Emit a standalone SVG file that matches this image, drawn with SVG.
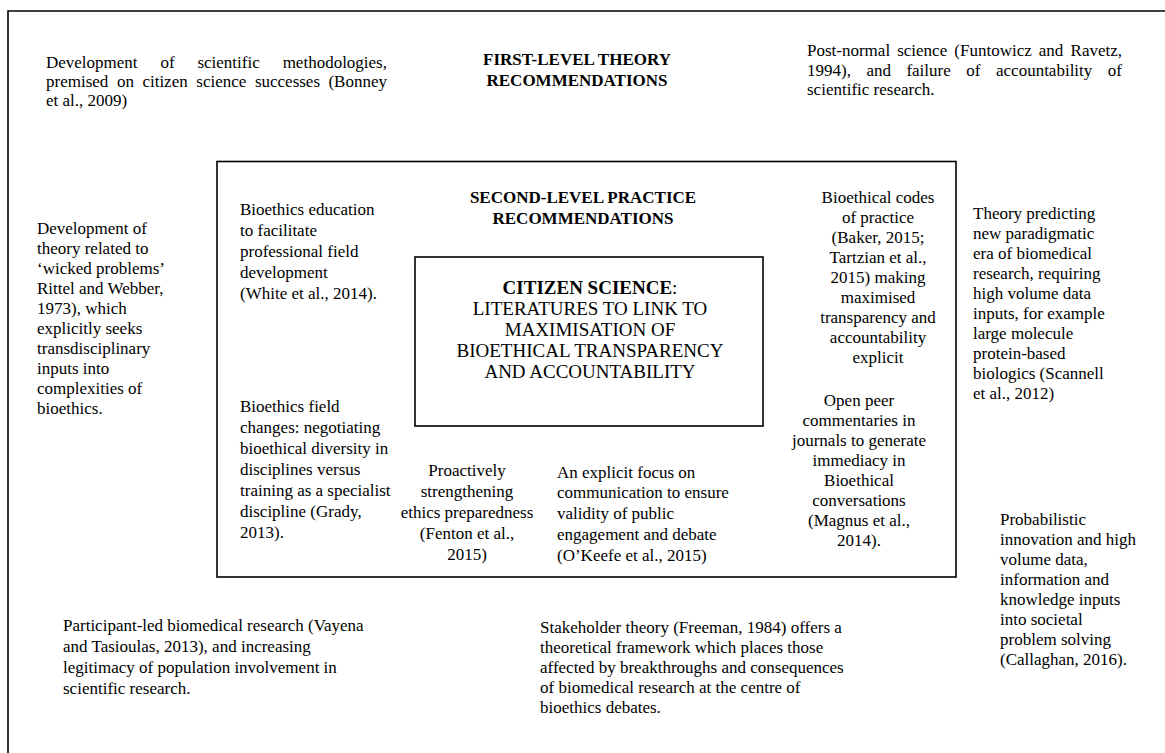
<svg xmlns="http://www.w3.org/2000/svg" width="1165" height="753" viewBox="0 0 1165 753">
<style>
  text { font-family: "Liberation Serif", "Times New Roman", serif; font-size: 17px; fill: #000; }
  .b { font-weight: bold; }
  .c { text-anchor: middle; }
  .e { text-anchor: end; }
  .big { font-size: 19px; }
  .frame { fill: none; stroke: #000; stroke-width: 1.6; }
</style>
<rect width="1165" height="753" fill="#fff"/>
<g id="outer-frame">
  <path class="frame" d="M8 760 L8 11 L1170 11"/>
</g>
<g id="connectors"></g>

<g id="first-level-heading">
  <text class="b c" x="577" y="65">FIRST-LEVEL THEORY</text>
  <text class="b c" x="577" y="86">RECOMMENDATIONS</text>
</g>

<g id="top-left">
  <text x="46" y="68">Development</text>
  <text x="160.4" y="68">of</text>
  <text x="197.4" y="68">scientific</text>
  <text class="e" x="387" y="68">methodologies,</text>
  <text x="46" y="87">premised</text>
  <text x="116.9" y="87">on</text>
  <text x="142.4" y="87">citizen</text>
  <text x="196.3" y="87">science</text>
  <text x="254.9" y="87">successes</text>
  <text class="e" x="387" y="87">(Bonney</text>
  <text x="46" y="106">et al., 2009)</text>
</g>

<g id="top-right">
  <text x="807" y="56">Post-normal</text>
  <text x="897.2" y="56">science</text>
  <text x="954.3" y="56">(Funtowicz</text>
  <text x="1038.8" y="56">and</text>
  <text class="e" x="1122" y="56">Ravetz,</text>
  <text x="807" y="76">1994),</text>
  <text x="866.4" y="76">and</text>
  <text x="906.4" y="76">failure</text>
  <text x="966.3" y="76">of</text>
  <text x="996" y="76">accountability</text>
  <text class="e" x="1122" y="76">of</text>
  <text x="807" y="95">scientific research.</text>
</g>

<g id="left-column">
  <text x="37" y="234">Development of</text>
  <text x="37" y="254">theory related to</text>
  <text x="37" y="274">‘wicked problems’</text>
  <text x="37" y="294">Rittel and Webber,</text>
  <text x="37" y="314">1973), which</text>
  <text x="37" y="334">explicitly seeks</text>
  <text x="37" y="354">transdisciplinary</text>
  <text x="37" y="374">inputs into</text>
  <text x="37" y="394">complexities of</text>
  <text x="37" y="414">bioethics.</text>
</g>

<g id="second-level">
  <rect class="frame" x="217" y="161.5" width="739" height="415.5"/>
  <text class="b c" x="583" y="203">SECOND-LEVEL PRACTICE</text>
  <text class="b c" x="583" y="224">RECOMMENDATIONS</text>
</g>

<g id="citizen-science">
  <rect class="frame" x="415" y="257" width="348" height="169"/>
  <text class="c big" x="590" y="294"><tspan class="b">CITIZEN SCIENCE</tspan>:</text>
  <text class="c big" x="590" y="315">LITERATURES TO LINK TO</text>
  <text class="c big" x="590" y="336">MAXIMISATION OF</text>
  <text class="c big" x="590" y="357">BIOETHICAL TRANSPARENCY</text>
  <text class="c big" x="590" y="378">AND ACCOUNTABILITY</text>
</g>

<g id="bioethics-education">
  <text x="240" y="215">Bioethics education</text>
  <text x="240" y="236">to facilitate</text>
  <text x="240" y="257">professional field</text>
  <text x="240" y="278">development</text>
  <text x="240" y="299">(White et al., 2014).</text>
</g>

<g id="bioethics-field">
  <text x="240" y="412">Bioethics field</text>
  <text x="240" y="433">changes: negotiating</text>
  <text x="240" y="454">bioethical diversity in</text>
  <text x="240" y="475">disciplines versus</text>
  <text x="240" y="496">training as a specialist</text>
  <text x="240" y="517">discipline (Grady,</text>
  <text x="240" y="538">2013).</text>
</g>

<g id="proactively">
  <text class="c" x="467" y="476">Proactively</text>
  <text class="c" x="467" y="497">strengthening</text>
  <text class="c" x="467" y="518">ethics preparedness</text>
  <text class="c" x="467" y="539">(Fenton et al.,</text>
  <text class="c" x="467" y="560">2015)</text>
</g>

<g id="explicit-focus">
  <text x="557" y="478">An explicit focus on</text>
  <text x="557" y="498">communication to ensure</text>
  <text x="557" y="519">validity of public</text>
  <text x="557" y="540">engagement and debate</text>
  <text x="557" y="561">(O’Keefe et al., 2015)</text>
</g>

<g id="bioethical-codes">
  <text class="c" x="878" y="203">Bioethical codes</text>
  <text class="c" x="878" y="223">of practice</text>
  <text class="c" x="878" y="243">(Baker, 2015;</text>
  <text class="c" x="878" y="263">Tartzian et al.,</text>
  <text class="c" x="878" y="283">2015) making</text>
  <text class="c" x="878" y="303">maximised</text>
  <text class="c" x="878" y="323">transparency and</text>
  <text class="c" x="878" y="343">accountability</text>
  <text class="c" x="878" y="363">explicit</text>
</g>

<g id="open-peer">
  <text class="c" x="859" y="406">Open peer</text>
  <text class="c" x="859" y="426">commentaries in</text>
  <text class="c" x="859" y="446">journals to generate</text>
  <text class="c" x="859" y="466">immediacy in</text>
  <text class="c" x="859" y="486">Bioethical</text>
  <text class="c" x="859" y="506">conversations</text>
  <text class="c" x="859" y="526">(Magnus et al.,</text>
  <text class="c" x="859" y="546">2014).</text>
</g>

<g id="theory-predicting">
  <text x="973" y="219">Theory predicting</text>
  <text x="973" y="239">new paradigmatic</text>
  <text x="973" y="259">era of biomedical</text>
  <text x="973" y="279">research, requiring</text>
  <text x="973" y="299">high volume data</text>
  <text x="973" y="319">inputs, for example</text>
  <text x="973" y="339">large molecule</text>
  <text x="973" y="359">protein-based</text>
  <text x="973" y="379">biologics (Scannell</text>
  <text x="973" y="399">et al., 2012)</text>
</g>

<g id="probabilistic">
  <text x="1000" y="525">Probabilistic</text>
  <text x="1000" y="545">innovation and high</text>
  <text x="1000" y="565">volume data,</text>
  <text x="1000" y="585">information and</text>
  <text x="1000" y="605">knowledge inputs</text>
  <text x="1000" y="625">into societal</text>
  <text x="1000" y="645">problem solving</text>
  <text x="1000" y="665">(Callaghan, 2016).</text>
</g>

<g id="participant-led">
  <text x="63" y="631">Participant-led biomedical research (Vayena</text>
  <text x="63" y="652">and Tasioulas, 2013), and increasing</text>
  <text x="63" y="673">legitimacy of population involvement in</text>
  <text x="63" y="694">scientific research.</text>
</g>

<g id="stakeholder">
  <text x="540" y="633">Stakeholder theory (Freeman, 1984) offers a</text>
  <text x="540" y="653">theoretical framework which places those</text>
  <text x="540" y="673">affected by breakthroughs and consequences</text>
  <text x="540" y="693">of biomedical research at the centre of</text>
  <text x="540" y="713">bioethics debates.</text>
</g>
</svg>
